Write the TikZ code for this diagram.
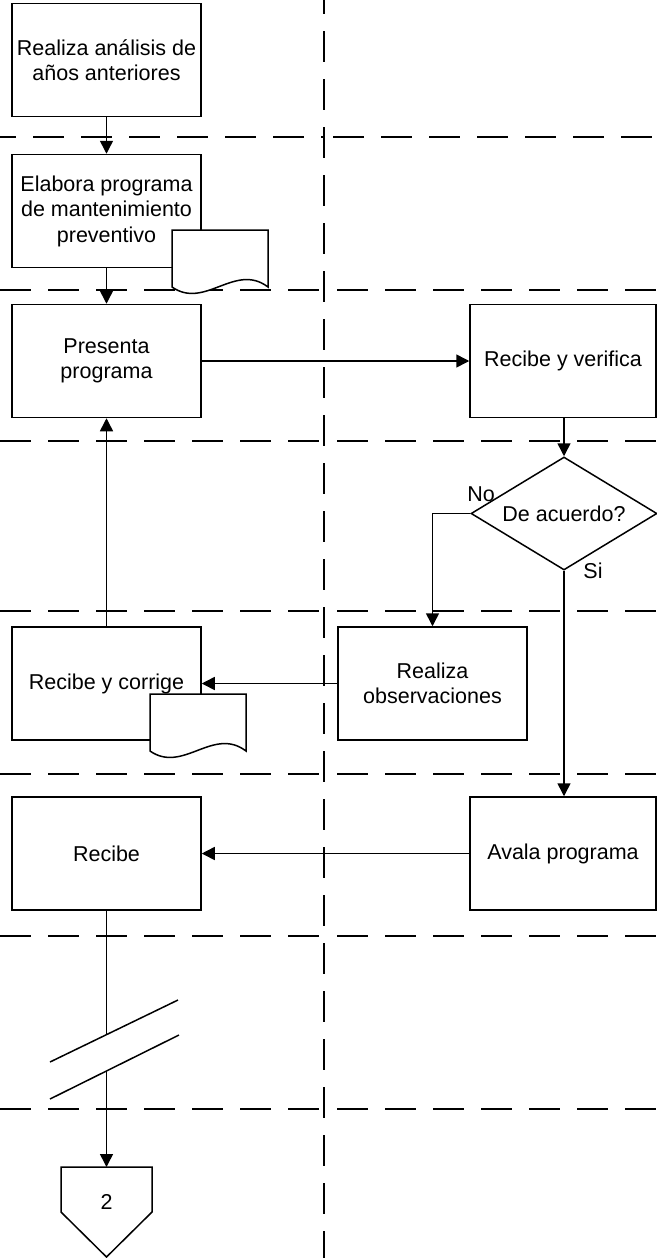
\documentclass[tikz,border=0pt]{standalone}
\usepackage{fontspec}
\setmainfont{Liberation Sans}
\usetikzlibrary{arrows.meta,shapes.geometric}
\begin{document}
\begin{tikzpicture}[x=1pt,y=-1pt,
  lw/.style={line width=1.5pt},
  lane/.style={line width=1.5pt,dash pattern=on 31pt off 17pt},
  box/.style={draw,lw,rectangle,minimum width=189pt,minimum height=113pt,inner sep=0pt,align=center,
     font=\fontsize{21.5}{25.5}\selectfont},
  arr/.style={lw,-{Triangle[length=13pt,width=13pt]}},
  docpic/.pic={\path[draw,line width=1.5pt,fill=white] (0,0) -- (96,0) -- (96,57)
      .. controls (63,32) and (33,80) .. (0,57) -- cycle;},
  lbl/.style={font=\fontsize{21.5}{25.5}\selectfont,inner sep=0pt}
]
\useasboundingbox (0,0) rectangle (656,1258);
% swimlane lines
\draw[lane,dash phase=17pt] (324,0) -- (324,1258);
\draw[lane,dash phase=15pt] (0,137) -- (324,137);
\draw[lane,dash phase=39pt] (324,137) -- (656,137);
\foreach \yy in {290,441,611,774,936,1109}{
  \draw[lane] (0,\yy) -- (324,\yy);
  \draw[lane,dash phase=35pt] (324,\yy) -- (656,\yy);
}
% boxes
\node[box] (b1) at (106.5,60) {Realiza análisis de\\años anteriores};
\node[box] (b2) at (106.5,211) {Elabora programa\\de mantenimiento\\preventivo};
\node[box] (b3) at (106.5,361) {Presenta\\programa};
\node[box,minimum width=186pt] (rv) at (563,361) {Recibe y verifica};
\node[draw,lw,diamond,minimum width=186pt,minimum height=113pt,aspect=1.64,inner sep=0pt,
      font=\fontsize{21.5}{25.5}\selectfont] (dia) at (564,513.5) {De acuerdo?};
\node[box] (ro) at (432.5,683.5) {Realiza\\observaciones};
\node[box] (rc) at (106.5,683.5) {Recibe y corrige};
\node[box] (rb) at (106.5,853.5) {Recibe};
\node[box,minimum width=186pt] (ap) at (563,853.5) {Avala programa};
% documents
\pic at (172,230) {docpic};
\pic at (150,694) {docpic};
% labels
\node[lbl] (no) at (481,494) {No};
\node[lbl] (si) at (593,571) {Si};
% break symbol
\draw[lw] (50,1062) -- (178,1000);
\draw[lw] (50,1099) -- (179,1035);
\coordinate (brk1) at (106.5,1034.6);
\coordinate (brk2) at (106.5,1071);
% off-page connector
\coordinate (octop) at (106.5,1167);
\draw[lw] (61,1167) -- (152,1167) -- (152,1212) -- (106.5,1257) -- (61,1212) -- cycle;
\node[lbl] (oc) at (106.5,1202) {2};
% connectors
\draw[arr] (b1.south) -- (b2.north);
\draw[arr] (b2.south) -- (b3.north);
\draw[arr] (b3.east) -- (rv.west);
\draw[arr] (dia.north |- rv.south) -- (dia.north);
\draw[arr] (dia.west) -| (ro.north);
\draw[arr] (dia.south) -- (dia.south |- ap.north);
\draw[arr] (ro.west) -- (rc.east);
\draw[arr] (rc.north) -- (b3.south);
\draw[arr] (ap.west) -- (rb.east);
\draw[lw] (rb.south) -- (brk1);
\draw[arr] (brk2) -- (octop);
\end{tikzpicture}
\end{document}
